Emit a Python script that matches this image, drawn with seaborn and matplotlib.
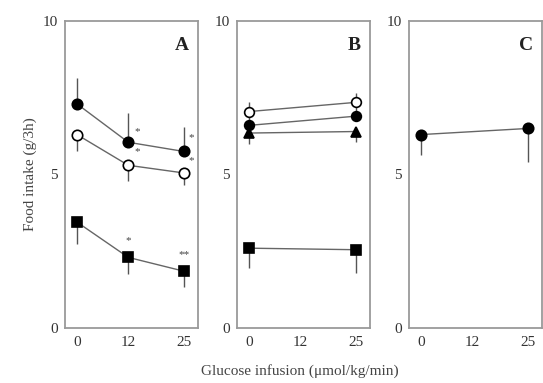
import matplotlib
matplotlib.use("Agg")
import matplotlib.pyplot as plt
import seaborn as sns
import numpy as np

sns.set_theme(style="white")
plt.rcParams['font.family'] = ['Liberation Serif', 'DejaVu Serif']

dose = [0, 12, 25]
dose_b = [0, 25]

# Panel A
a_fill = [7.3, 6.05, 5.75]
a_fill_err = [0.85, 0.95, 0.8]
a_open = [6.3, 5.3, 5.05]
a_open_err = [0.55, 0.5, 0.4]
a_sq = [3.45, 2.3, 1.85]
a_sq_err = [0.7, 0.55, 0.5]

# Panel B
b_open = [7.05, 7.35]
b_open_err = [0.3, 0.3]
b_fill = [6.6, 6.9]
b_fill_err = [0.3, 0.3]
b_tri = [6.35, 6.4]
b_tri_err = [0.35, 0.35]
b_sq = [2.6, 2.55]
b_sq_err = [0.65, 0.75]

# Panel C
c_fill = [6.3, 6.5]
c_fill_err = [0.65, 1.1]

tick_vals = [0, 12, 25]
tick_labels = ["0", "12", "25"]

fig = plt.figure(figsize=(5.43, 3.83), dpi=100)
W, H = 543, 383
lefts = [65, 237, 409]
width = 133
bottom_px, top_px = 328, 21


def series(ax, x, y, err, marker, filled=True, up=True, ms=7.5):
    ax.errorbar(x, y,
                yerr=[[0] * len(err), err] if up else [err, [0] * len(err)],
                fmt="none", ecolor="#555555", elinewidth=1.0, capsize=0, zorder=2)
    sns.lineplot(x=x, y=y, ax=ax, color="#666666", linewidth=1.0,
                 marker=marker, markersize=ms,
                 markerfacecolor="black" if filled else "white",
                 markeredgecolor="black", markeredgewidth=1.2, zorder=3,
                 clip_on=False)


def star(ax, x, y, s):
    ax.text(x, y, s, fontsize=8, color="#444444", ha="center", va="center")


axes = []
for i, l in enumerate(lefts):
    ax = fig.add_axes([l / W, 1 - bottom_px / H, width / W, (bottom_px - top_px) / H])
    ax.set_xlim(-2.8, 28.3)
    ax.set_ylim(0, 10)
    ax.set_yticks([0, 5, 10])
    ax.set_yticklabels(["0", "5", "10"])
    ax.set_xticks(tick_vals)
    ax.set_xticklabels(tick_labels)
    for sp in ax.spines.values():
        sp.set_color("#9a9a9a")
        sp.set_linewidth(1.3)
    ax.tick_params(axis="y", direction="out", length=4, width=1, color="#777777",
                   labelsize=11, pad=1, labelcolor="#333333")
    ax.tick_params(axis="x", direction="in", length=3, width=1, color="#999999",
                   labelsize=11, pad=6, labelcolor="#333333")
    ax.set_xlabel("")
    ax.set_ylabel("")
    axes.append(ax)

axA, axB, axC = axes

series(axA, dose, a_fill, a_fill_err, "o", True, True)
series(axA, dose, a_open, a_open_err, "o", False, False)
series(axA, dose, a_sq, a_sq_err, "s", True, False)
star(axA, 14.0, 6.4, "*")
star(axA, 26.8, 6.2, "*")
star(axA, 14.0, 5.75, "*")
star(axA, 26.8, 5.45, "*")
star(axA, 12, 2.85, "*")
star(axA, 25, 2.4, "**")
axA.text(0.93, 0.92, "A", transform=axA.transAxes, fontsize=14, fontweight="bold",
         ha="right", va="center", color="#222222")
axA.set_ylabel("Food intake (g/3h)", fontsize=11, color="#444444", labelpad=4)

series(axB, dose_b, b_open, b_open_err, "o", False, True, ms=7)
series(axB, dose_b, b_fill, b_fill_err, "o", True, True, ms=7)
series(axB, dose_b, b_tri, b_tri_err, "^", True, False, ms=7)
series(axB, dose_b, b_sq, b_sq_err, "s", True, False)
axB.text(0.93, 0.92, "B", transform=axB.transAxes, fontsize=14, fontweight="bold",
         ha="right", va="center", color="#222222")

series(axC, dose_b, c_fill, c_fill_err, "o", True, False)
axC.text(0.93, 0.92, "C", transform=axC.transAxes, fontsize=14, fontweight="bold",
         ha="right", va="center", color="#222222")

fig.text(300 / W, 1 - 371 / H, "Glucose infusion (\u03bcmol/kg/min)", fontsize=11,
         ha="center", va="center", color="#444444")

fig.savefig("out.png", dpi=100, facecolor="white")
